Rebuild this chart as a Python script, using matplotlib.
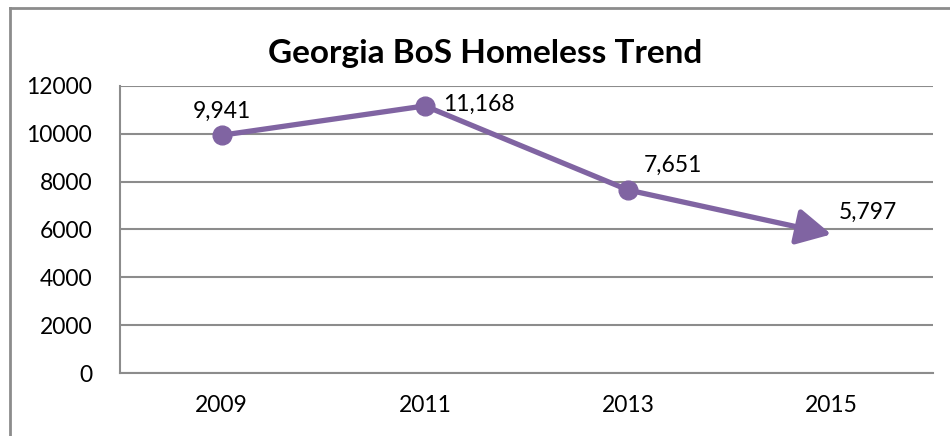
import matplotlib.pyplot as plt
from matplotlib.lines import Line2D

plt.rcParams['font.family'] = ['Lato', 'DejaVu Sans']

# Homeless counts by year
years = ['2009', '2011', '2013', '2015']
counts = [9941, 11168, 7651, 5797]
labels = ['9,941', '11,168', '7,651', '5,797']
yticks = [0, 2000, 4000, 6000, 8000, 10000, 12000]

purple = '#8064A2'
gray = '#8C8C8C'

fig = plt.figure(figsize=(9.5, 4.36), dpi=100)
ax = fig.add_axes([120 / 950, 1 - 373 / 436, 813 / 950, (373 - 86) / 436])

x = list(range(len(years)))

# Line with round markers, last segment ends in an arrow
ax.plot(x[:-1], counts[:-1], color=purple, lw=3.8, marker='o', ms=13.5,
        solid_capstyle='round', zorder=3)
ax.annotate('', xy=(x[-1], counts[-1]), xytext=(x[-2], counts[-2]),
            arrowprops=dict(arrowstyle='-|>,head_length=2.1,head_width=1.1',
                            color=purple, lw=3.8, shrinkA=0, shrinkB=0),
            zorder=3)

# Data labels
offsets = [(0, 10), (13, 1), (32, 10), (26, 8)]
aligns = [('center', 'bottom'), ('left', 'center'), ('center', 'bottom'), ('center', 'bottom')]
for xi, val, lab, off, (ha, va) in zip(x, counts, labels, offsets, aligns):
    ax.annotate(lab, (xi, val), xytext=off, textcoords='offset points',
                ha=ha, va=va, fontsize=16.5, color='black')

ax.set_xlim(-0.5, len(years) - 0.5)
ax.set_ylim(0, 12000)
ax.set_xticks(x)
ax.set_xticklabels(years)
ax.set_yticks(yticks)
ax.tick_params(axis='both', length=0, labelsize=16.5, colors='black')
ax.tick_params(axis='x', pad=16)
ax.tick_params(axis='y', pad=20)
ax.grid(axis='y', color=gray, lw=1.5)
ax.set_axisbelow(True)
for side in ['top', 'right']:
    ax.spines[side].set_visible(False)
for side in ['left', 'bottom']:
    ax.spines[side].set_color(gray)
    ax.spines[side].set_linewidth(1.5)

fig.text(485 / 950, 1 - 53 / 436, 'Georgia BoS Homeless Trend', ha='center', va='center',
         fontsize=24, fontweight='bold')

# Chart area frame (left and top edges)
fig.add_artist(Line2D([10 / 950, 10 / 950], [0, 1 - 8 / 436], color=gray, lw=2,
                      transform=fig.transFigure))
fig.add_artist(Line2D([10 / 950, 1], [1 - 8 / 436, 1 - 8 / 436], color=gray, lw=2,
                      transform=fig.transFigure))

fig.savefig('out.png', dpi=100)
